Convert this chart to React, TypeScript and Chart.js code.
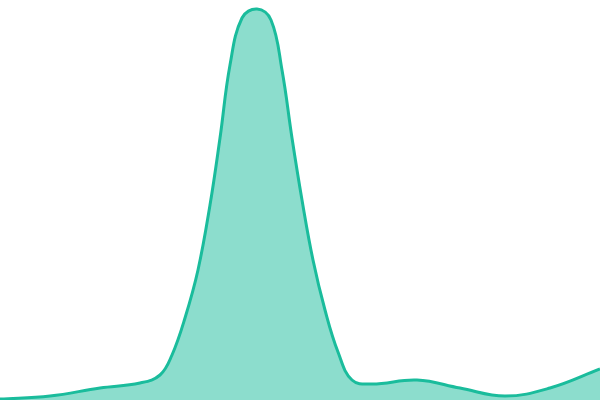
import React, { useEffect, useRef } from "react";
import Chart from "chart.js/auto";

// sample positions along the x range (0..600) and curve heights (0..400)
const xPositions = [0, 50, 100, 140, 160, 172, 185, 198, 210, 220, 230, 242, 257, 271, 282, 292, 302, 313, 325, 338, 352, 372, 417, 460, 505, 550, 600];
const densityValues = [1, 4, 12, 17, 25, 45, 82, 130, 195, 262, 335, 382, 391, 380, 330, 262, 200, 140, 90, 48, 20, 16, 20, 12, 4, 12, 31];

const xMin = 0;
const xMax = 600;
const yMin = 0;
const yMax = 400;

const App: React.FC = () => {
  const chartRef = useRef<HTMLCanvasElement | null>(null);
  const chartInstance = useRef<Chart | null>(null);

  useEffect(() => {
    if (!chartRef.current) return;
    if (chartInstance.current) chartInstance.current.destroy();

    chartInstance.current = new Chart(chartRef.current, {
      type: "line",
      data: {
        datasets: [
          {
            data: xPositions.map((x, i) => ({ x, y: densityValues[i] })),
            borderColor: "#1abc9c",
            backgroundColor: "rgba(26, 188, 156, 0.5)",
            borderWidth: 3,
            fill: "origin",
            pointRadius: 0,
            tension: 0.4,
          },
        ],
      },
      options: {
        animation: false,
        responsive: true,
        maintainAspectRatio: false,
        layout: { padding: 0 },
        plugins: { legend: { display: false }, tooltip: { enabled: false } },
        scales: {
          x: { type: "linear", min: xMin, max: xMax, display: false },
          y: { min: yMin, max: yMax, display: false },
        },
      },
    });

    return () => {
      if (chartInstance.current) {
        chartInstance.current.destroy();
        chartInstance.current = null;
      }
    };
  }, []);

  return (
    <div style={{ position: "fixed", left: 0, top: 0, width: 600, height: 400, background: "#fff" }}>
      <canvas ref={chartRef} />
    </div>
  );
};

export default App;
